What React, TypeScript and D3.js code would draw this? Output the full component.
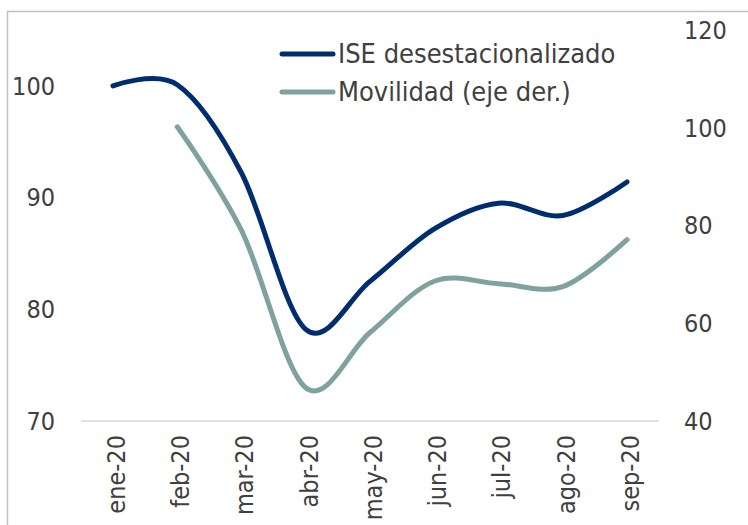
import React, { useEffect, useRef } from "react";
import * as d3 from "d3";

const months = ["ene-20", "feb-20", "mar-20", "abr-20", "may-20", "jun-20", "jul-20", "ago-20", "sep-20"];
const iseValues = [100, 100.1, 92.2, 78.2, 82.5, 87.2, 89.5, 88.4, 91.4];
const movilidadValues = [null, 100.2, 79, 46.8, 58.1, 68.6, 68.1, 67.5, 77.1];
const leftTicks = [70, 80, 90, 100];
const rightTicks = [40, 60, 80, 100, 120];

const W = 748;
const H = 525;
const FONT = "'Liberation Sans Narrow', 'DejaVu Sans Condensed', sans-serif";

export default function App() {
  const ref = useRef<SVGSVGElement>(null);

  useEffect(() => {
    const svg = d3.select(ref.current);
    svg.selectAll("*").remove();

    const left = 81;
    const right = 659;
    const top = 30;
    const bottom = 421;

    const x = d3.scalePoint<string>().domain(months).range([113, 627]);
    const yL = d3.scaleLinear().domain([70, 105]).range([bottom, top]);
    const yR = d3.scaleLinear().domain([40, 120]).range([bottom, top]);

    // outer frame
    svg
      .append("rect")
      .attr("x", 7.5)
      .attr("y", 11.5)
      .attr("width", W + 20)
      .attr("height", H + 20)
      .attr("fill", "none")
      .attr("stroke", "#bfbfbf")
      .attr("stroke-width", 1.5);

    // baseline
    svg
      .append("line")
      .attr("x1", left)
      .attr("x2", right)
      .attr("y1", yL(70))
      .attr("y2", yL(70))
      .attr("stroke", "#d9d9d9")
      .attr("stroke-width", 1.5);

    // left axis labels
    svg
      .append("g")
      .selectAll("text")
      .data(leftTicks)
      .join("text")
      .attr("x", 55)
      .attr("y", d => yL(d))
      .attr("dy", "0.35em")
      .attr("text-anchor", "end")
      .attr("font-family", FONT)
      .attr("font-size", 25)
      .attr("fill", "#404040")
      .text(d => d);

    // right axis labels
    svg
      .append("g")
      .selectAll("text")
      .data(rightTicks)
      .join("text")
      .attr("x", 684)
      .attr("y", d => yR(d))
      .attr("dy", "0.35em")
      .attr("text-anchor", "start")
      .attr("font-family", FONT)
      .attr("font-size", 25)
      .attr("fill", "#404040")
      .text(d => d);

    // x labels
    svg
      .append("g")
      .selectAll("text")
      .data(months)
      .join("text")
      .attr("transform", d => `translate(${x(d)! + 3},435) rotate(-90)`)
      .attr("dy", "0.35em")
      .attr("text-anchor", "end")
      .attr("font-family", FONT)
      .attr("font-size", 25)
      .attr("fill", "#404040")
      .text(d => d);

    // Movilidad line (right axis)
    const movData = months
      .map((m, i) => ({ m, v: movilidadValues[i] }))
      .filter(d => d.v !== null) as { m: string; v: number }[];
    svg
      .append("path")
      .datum(movData)
      .attr("fill", "none")
      .attr("stroke", "#7fa29f")
      .attr("stroke-width", 5)
      .attr("stroke-linecap", "round")
      .attr(
        "d",
        d3
          .line<{ m: string; v: number }>()
          .x(d => x(d.m)!)
          .y(d => yR(d.v))
          .curve(d3.curveCardinal.tension(0))
      );

    // ISE line (left axis)
    const iseData = months.map((m, i) => ({ m, v: iseValues[i] }));
    svg
      .append("path")
      .datum(iseData)
      .attr("fill", "none")
      .attr("stroke", "#002d6e")
      .attr("stroke-width", 5)
      .attr("stroke-linecap", "round")
      .attr(
        "d",
        d3
          .line<{ m: string; v: number }>()
          .x(d => x(d.m)!)
          .y(d => yL(d.v))
          .curve(d3.curveCardinal.tension(0))
      );

    // legend
    const legend = [
      { label: "ISE desestacionalizado", color: "#002d6e", y: 54 },
      { label: "Movilidad (eje der.)", color: "#7fa29f", y: 92 },
    ];
    const lg = svg.append("g");
    lg.selectAll("line")
      .data(legend)
      .join("line")
      .attr("x1", 282)
      .attr("x2", 333)
      .attr("y1", d => d.y)
      .attr("y2", d => d.y)
      .attr("stroke", d => d.color)
      .attr("stroke-width", 5)
      .attr("stroke-linecap", "round");
    lg.selectAll("text")
      .data(legend)
      .join("text")
      .attr("x", 338)
      .attr("y", d => d.y)
      .attr("dy", "0.35em")
      .attr("font-family", FONT)
      .attr("font-size", 27)
      .attr("fill", "#404040")
      .text(d => d.label);
  }, []);

  return (
    <svg
      ref={ref}
      width={W}
      height={H}
      style={{ position: "absolute", left: 0, top: 0, background: "#fff" }}
    />
  );
}
